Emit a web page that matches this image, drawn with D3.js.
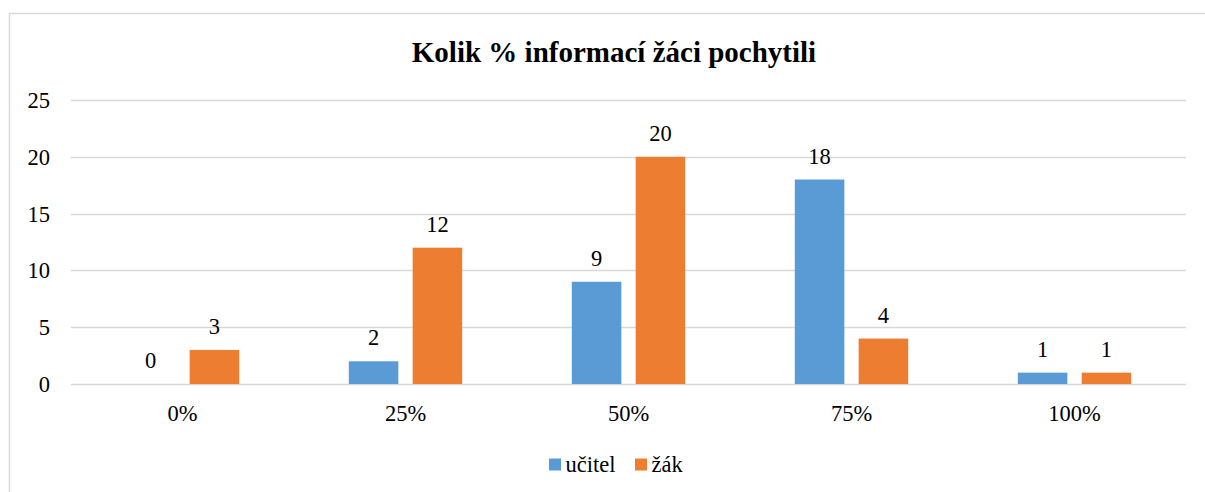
<!DOCTYPE html>
<html>
<head>
<meta charset="utf-8">
<script src="https://cdn.jsdelivr.net/npm/d3@7"></script>
<style>
  html, body { margin: 0; padding: 0; background: #fff; }
  svg { display: block; }
</style>
</head>
<body>
<svg id="chart" width="1205" height="492"></svg>
<script>
const categories = ["0%", "25%", "50%", "75%", "100%"];
const seriesNames = ["učitel", "žák"];
const ucitelValues = [0, 2, 9, 18, 1];
const zakValues = [3, 12, 20, 4, 1];
const yTicks = [0, 5, 10, 15, 20, 25];
const titleText = "Kolik % informací žáci pochytili";
const colors = ["#5B9BD5", "#ED7D31"];

(function () {
const seriesValues = [ucitelValues, zakValues];
const svg = d3.select("#chart");
const font = "'Liberation Serif', 'Times New Roman', serif";

// chart border
svg.append("rect")
  .attr("x", 9.5).attr("y", 13.5)
  .attr("width", 1210).attr("height", 500)
  .attr("fill", "#fff")
  .attr("stroke", "#D9D9D9").attr("stroke-width", 1.5);

const pLeft = 71, pRight = 1186, pTop = 100, pBottom = 384;

const x = d3.scaleBand().domain(categories).range([pLeft, pRight]).padding(0);
const y = d3.scaleLinear().domain([0, 25]).range([pBottom, pTop]);
const inner = d3.scaleBand().domain(seriesNames)
  .range([-56.7, 56.7]).paddingInner(0.224).paddingOuter(0);

// gridlines
svg.append("g").selectAll("line").data(yTicks).join("line")
  .attr("x1", pLeft).attr("x2", pRight)
  .attr("y1", d => Math.round(y(d)) + 0.5).attr("y2", d => Math.round(y(d)) + 0.5)
  .attr("stroke", "#D9D9D9").attr("stroke-width", 1.5);

// y axis labels
svg.append("g").selectAll("text").data(yTicks).join("text")
  .attr("x", 50).attr("y", d => y(d) + 8)
  .attr("text-anchor", "end")
  .attr("font-family", font).attr("font-size", 22.5).attr("fill", "#000")
  .text(d => d);

// x axis labels
svg.append("g").selectAll("text").data(categories).join("text")
  .attr("x", d => x(d) + x.bandwidth() / 2).attr("y", 421)
  .attr("text-anchor", "middle")
  .attr("font-family", font).attr("font-size", 22.5).attr("fill", "#000")
  .text(d => d);

// bars
const barData = [];
seriesNames.forEach((s, si) => {
  categories.forEach((c, ci) => {
    barData.push({ s, si, c, v: seriesValues[si][ci] });
  });
});

svg.append("g").selectAll("rect").data(barData).join("rect")
  .attr("x", d => x(d.c) + x.bandwidth() / 2 + inner(d.s))
  .attr("width", inner.bandwidth())
  .attr("y", d => y(d.v))
  .attr("height", d => y(0) - y(d.v))
  .attr("fill", d => colors[d.si]);

// data labels
svg.append("g").selectAll("text").data(barData).join("text")
  .attr("x", d => x(d.c) + x.bandwidth() / 2 + inner(d.s) + inner.bandwidth() / 2)
  .attr("y", d => y(d.v) - 16)
  .attr("text-anchor", "middle")
  .attr("font-family", font).attr("font-size", 22.5).attr("fill", "#000")
  .text(d => d.v);

// title
svg.append("text")
  .attr("x", 614).attr("y", 62)
  .attr("text-anchor", "middle")
  .attr("font-family", font).attr("font-size", 29).attr("font-weight", "bold")
  .attr("fill", "#000")
  .text(titleText);

// legend
const legendItems = [
  { name: seriesNames[0], color: colors[0], x: 549 },
  { name: seriesNames[1], color: colors[1], x: 635 }
];
const lg = svg.append("g");
legendItems.forEach(it => {
  lg.append("rect").attr("x", it.x).attr("y", 458.5)
    .attr("width", 12).attr("height", 12).attr("fill", it.color);
  lg.append("text").attr("x", it.x + 16.5).attr("y", 471.5)
    .attr("font-family", font).attr("font-size", 22.5).attr("fill", "#000")
    .text(it.name);
});
})();
</script>
</body>
</html>
